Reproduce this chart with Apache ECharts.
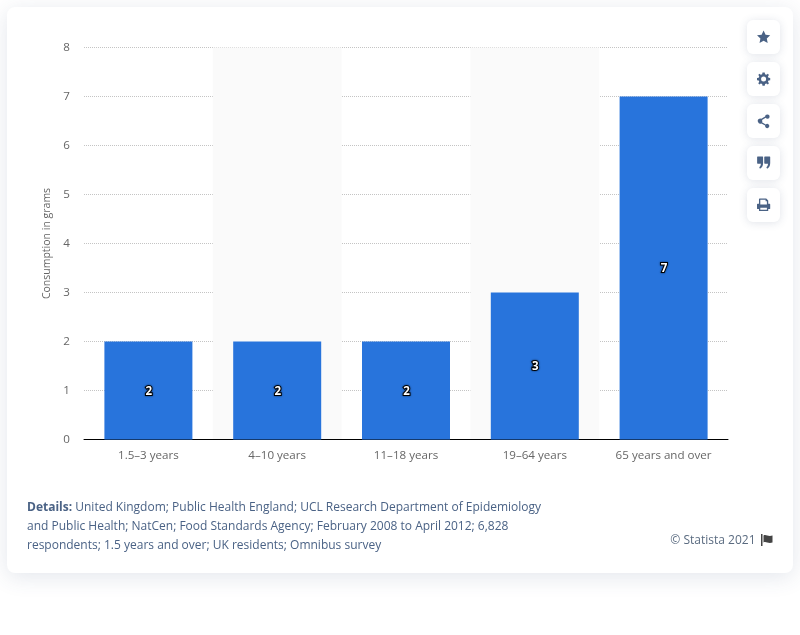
<!DOCTYPE html>
<html><head><meta charset="utf-8">
<style>html,body{margin:0;padding:0;background:#fff}#c{width:800px;height:635px}</style>
<script src="https://cdn.jsdelivr.net/npm/echarts@6/dist/echarts.min.js"></script>
</head><body><div id="c"></div>
<script>
const categories = ['1.5–3 years','4–10 years','11–18 years','19–64 years','65 years and over'];
const values = [2,2,2,3,7];
const yAxisName = 'Consumption in grams';
const detailLines = [
  '{b|Details:} United Kingdom; Public Health England; UCL Research Department of Epidemiology',
  'and Public Health; NatCen; Food Standards Agency; February 2008 to April 2012; 6,828',
  'respondents; 1.5 years and over; UK residents; Omnibus survey'
];
const credit = '© Statista 2021';
const font = '"Open Sans"';
const iconColor = '#4a6285';
const icons = [
  'M10 0L13 6.5L20 7.3L14.8 12L16.2 19L10 15.5L3.8 19L5.2 12L0 7.3L7 6.5Z',
  'M8.3 0H11.7L12.2 2.6L14.2 3.4L16.4 1.9L18.1 3.6L16.6 5.8L17.4 7.8L20 8.3V11.7L17.4 12.2L16.6 14.2L18.1 16.4L16.4 18.1L14.2 16.6L12.2 17.4L11.7 20H8.3L7.8 17.4L5.8 16.6L3.6 18.1L1.9 16.4L3.4 14.2L2.6 12.2L0 11.7V8.3L2.6 7.8L3.4 5.8L1.9 3.6L3.6 1.9L5.8 3.4L7.8 2.6ZM10 6.2A3.8 3.8 0 1 0 10 13.8A3.8 3.8 0 1 0 10 6.2Z',
  'M16 0A3.2 3.2 0 1 1 13.2 4.9L7.6 8.2A3.4 3.4 0 0 1 7.6 11.8L13.2 15.1A3.2 3.2 0 1 1 12.3 16.8L6.5 13.5A3.8 3.8 0 1 1 6.5 6.5L12.3 3.2A3.2 3.2 0 0 1 16 0Z',
  'M1 0H8.6Q9.2 0 9.2 0.8V10Q9.2 16.5 4.5 18.5L3.4 16.3Q5.6 15 6 11H1Q0.2 11 0.2 10V0.8Q0.2 0 1 0ZM12 0H19.2Q20 0 20 0.8V10Q20 16.5 15.3 18.5L14.2 16.3Q16.4 15 16.8 11H12Q11 11 11 10V0.8Q11 0 12 0Z',
  'M4 0H14L17 3V8H19Q20 8 20 9V15Q20 16 19 16H17V19H3V16H1Q0 16 0 15V9Q0 8 1 8H3V1Q3 0 4 0ZM5 2V9H15V4H13V2ZM5 14V17H15V14Z'
];
const flagPath = 'M0 0H1.5V12H0ZM2.5 1.5C5 0 7 3 11.5 1.5V8.5C7 10 5 7 2.5 8.5Z';

icons.forEach((p,i)=>echarts.graphic.registerShape('uiIcon'+i, echarts.graphic.extendPath(p,{})));
echarts.graphic.registerShape('uiFlag', echarts.graphic.extendPath(flagPath,{}));

const buttonTops = [20,62,104,146,188];
const graphics = [];
graphics.push({type:'rect',z:-10,silent:true,shape:{x:7,y:7,width:786,height:566,r:8},
  style:{fill:'#fff',shadowBlur:22,shadowColor:'rgba(60,80,120,0.14)',shadowOffsetY:4}});
buttonTops.forEach((t,i)=>{
  graphics.push({type:'rect',z:5,silent:true,shape:{x:747,y:t,width:33,height:34,r:6},
    style:{fill:'#fff',shadowBlur:8,shadowColor:'rgba(60,80,120,0.16)',shadowOffsetY:1}});
  graphics.push({type:'uiIcon'+i,z:6,silent:true,x:757,y:t+10.5,scaleX:0.66,scaleY:0.66,
    style:{fill:iconColor}});
});
detailLines.forEach((l,i)=>{
  graphics.push({type:'text',z:6,silent:true,x:27,y:507.5+i*19,style:{
    text:l,fill:iconColor,font:'12px '+font,verticalAlign:'middle',align:'left',
    rich:{b:{fontWeight:'bold',fontFamily:font,fontSize:12,fill:iconColor,color:iconColor}}}});
});
graphics.push({type:'text',z:6,silent:true,x:755.5,y:540.5,style:{text:credit,fill:'#5a6b80',font:'12px '+font,align:'right',verticalAlign:'middle'}});
graphics.push({type:'uiFlag',z:6,silent:true,x:761,y:534,style:{fill:'#444'}});

const chart = echarts.init(document.getElementById('c'),null,{renderer:'canvas'});
chart.setOption({
  animation:false,
  backgroundColor:'transparent',
  graphic:graphics,
  grid:{left:84,right:72,top:47.5,bottom:195.5,containLabel:false},
  xAxis:{type:'category',data:categories,
    axisLine:{lineStyle:{color:'#000',width:1}},axisTick:{show:false},
    axisLabel:{color:'#666',fontFamily:font,fontSize:11.6,margin:10,interval:0},
    splitArea:{show:true,areaStyle:{color:['rgba(255,255,255,0)','#fafafa']}}},
  yAxis:{type:'value',min:0,max:8,interval:1,
    name:yAxisName,nameLocation:'middle',nameGap:29,nameRotate:90,
    nameTextStyle:{color:'#666',fontFamily:font,fontSize:10.5},
    axisLine:{show:false},axisTick:{show:false},
    axisLabel:{color:'#666',fontFamily:font,fontSize:11.6,margin:14,align:'right',padding:[4,0,0,0]},
    splitLine:{lineStyle:{color:'#c4c4c4',type:'dotted',width:1}}},
  series:[{type:'bar',data:values,barWidth:88,
    itemStyle:{color:'#2874dc'},
    label:{show:true,position:'inside',offset:[0.5,1],color:'#fff',fontFamily:font,fontWeight:'bold',fontSize:11.5,
      textBorderColor:'#000',textBorderWidth:2,textShadowColor:'rgba(0,0,0,0.6)',textShadowBlur:2}}]
});
</script></body></html>
